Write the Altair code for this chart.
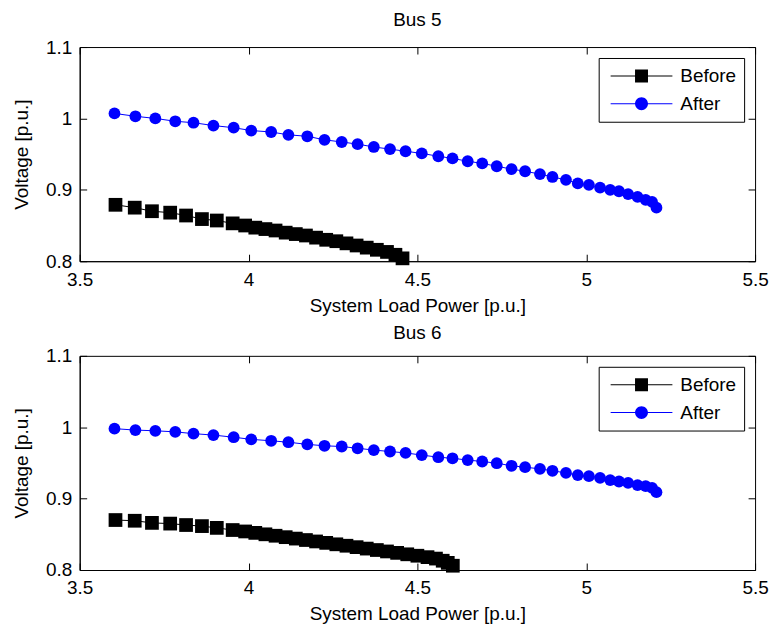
import altair as alt
import pandas as pd

series_names = ["Before", "After"]
series_colors = ["#000000", "#0000FF"]

# Bus 5
x_before_bus5 = [3.606, 3.663, 3.714, 3.768, 3.815, 3.862, 3.906, 3.953, 3.99,
                 4.02, 4.05, 4.08, 4.11, 4.14, 4.17, 4.20, 4.23, 4.26, 4.29, 4.32,
                 4.35, 4.38, 4.41, 4.435, 4.456]
v_before_bus5 = [0.879, 0.875, 0.870, 0.868, 0.864, 0.859, 0.857, 0.853, 0.850,
                 0.847, 0.845, 0.843, 0.840, 0.838, 0.836, 0.833, 0.830, 0.828, 0.825, 0.822,
                 0.819, 0.816, 0.813, 0.809, 0.804]

x_after = [3.603, 3.665, 3.724, 3.783, 3.837, 3.896, 3.956, 4.008, 4.067, 4.118,
           4.174, 4.225, 4.276, 4.323, 4.371, 4.419, 4.465, 4.513, 4.562, 4.604,
           4.649, 4.692, 4.735, 4.779, 4.819, 4.863, 4.900, 4.940, 4.975, 5.008,
           5.041, 5.071, 5.097, 5.124, 5.152, 5.176, 5.195, 5.208]
v_after_bus5 = [1.007, 1.003, 1.000, 0.996, 0.994, 0.990, 0.987, 0.983, 0.981, 0.977,
                0.975, 0.970, 0.967, 0.964, 0.960, 0.957, 0.954, 0.951, 0.947, 0.944,
                0.940, 0.937, 0.933, 0.929, 0.926, 0.922, 0.918, 0.914, 0.909, 0.907,
                0.903, 0.900, 0.898, 0.894, 0.890, 0.886, 0.883, 0.875]

# Bus 6
x_before_bus6 = [3.606, 3.663, 3.714, 3.768, 3.815, 3.862, 3.906, 3.953, 3.99,
                 4.02, 4.05, 4.08, 4.11, 4.14, 4.17, 4.20, 4.23, 4.26, 4.29, 4.32,
                 4.35, 4.38, 4.41, 4.44, 4.47, 4.50, 4.53, 4.555, 4.575, 4.59, 4.605]
v_before_bus6 = [0.870, 0.869, 0.866, 0.865, 0.863, 0.8615, 0.859, 0.856, 0.854,
                 0.852, 0.850, 0.848, 0.846, 0.844, 0.842, 0.840, 0.838, 0.836, 0.834, 0.832,
                 0.830, 0.828, 0.826, 0.824, 0.822, 0.820, 0.818, 0.816, 0.813, 0.810, 0.806]
v_after_bus6 = [0.998, 0.996, 0.995, 0.9935, 0.991, 0.989, 0.986, 0.983, 0.981, 0.979,
                0.976, 0.974, 0.973, 0.9705, 0.968, 0.966, 0.964, 0.961, 0.958, 0.9565,
                0.954, 0.952, 0.9496, 0.946, 0.944, 0.9417, 0.939, 0.936, 0.933, 0.9315,
                0.929, 0.926, 0.924, 0.922, 0.919, 0.9176, 0.915, 0.909]

x_ticks = [3.5, 4, 4.5, 5, 5.5]
y_ticks = [0.8, 0.9, 1.0, 1.1]

FONT = "Liberation Sans"
FS = 19
TICK = 7

BEFORE_PATH = "M-3.1,-0.05H-0.6V0.05H-3.1Z M0.6,-0.05H3.1V0.05H0.6Z M-0.65,-0.65H0.65V0.65H-0.65Z"
AFTER_PATH = ("M-3.1,-0.05H-0.6V0.05H-3.1Z M0.6,-0.05H3.1V0.05H0.6Z "
              "M0.65,0A0.65,0.65 0 1,1 -0.65,0A0.65,0.65 0 1,1 0.65,0Z")


def ax(**kw):
    base = dict(grid=False, domainColor="black", domainWidth=1, tickColor="black",
                tickWidth=1, labelFont=FONT, labelFontSize=FS, labelColor="black",
                titleFont=FONT, titleFontSize=FS, titleFontWeight="normal",
                titleColor="black", format="~g", labelFlush=False)
    base.update(kw)
    return alt.Axis(**base)


def tick_axis(orient, values):
    # inward ticks: axis pushed inside by the tick length, no domain or labels
    return ax(orient=orient, values=values, labels=False, domain=False, title=None,
              tickSize=TICK, offset=-TICK, minExtent=0, maxExtent=0)


def panel(title, title_offset, xb, vb, va):
    df = pd.DataFrame({
        "load": list(xb) + list(x_after),
        "voltage": list(vb) + list(va),
        "series": ["Before"] * len(xb) + ["After"] * len(x_after),
    })
    xscale = alt.Scale(domain=[3.5, 5.5], nice=False, zero=False)
    yscale = alt.Scale(domain=[0.8, 1.1], nice=False, zero=False)
    cscale = alt.Scale(domain=series_names, range=series_colors)
    base = alt.Chart(df)
    before = base.transform_filter(alt.datum.series == "Before")
    after = base.transform_filter(alt.datum.series == "After")

    line_before = before.mark_line(strokeWidth=1, color=series_colors[0]).encode(
        x=alt.X("load:Q", scale=xscale, title="System Load Power [p.u.]",
                axis=ax(orient="bottom", values=x_ticks, ticks=False,
                        labelPadding=9, titlePadding=7)),
        y=alt.Y("voltage:Q", scale=yscale, title="Voltage [p.u.]",
                axis=ax(orient="left", values=y_ticks, ticks=False,
                        labelPadding=8, titlePadding=14)),
        order="load:Q",
    )
    line_after = after.mark_line(strokeWidth=1, color=series_colors[1]).encode(
        x=alt.X("load:Q", scale=xscale, axis=None),
        y=alt.Y("voltage:Q", scale=yscale, axis=None),
        order="load:Q",
    )
    pts_before = before.mark_point(
        shape="square", filled=True, opacity=1, strokeWidth=0, size=190,
        color=series_colors[0]).encode(
        x=alt.X("load:Q", scale=xscale, axis=tick_axis("bottom", x_ticks)),
        y=alt.Y("voltage:Q", scale=yscale, axis=tick_axis("left", y_ticks)),
    )
    pts_after = after.mark_point(
        shape="circle", filled=True, opacity=1, strokeWidth=0, size=140,
        color=series_colors[1]).encode(
        x=alt.X("load:Q", scale=xscale, axis=tick_axis("top", x_ticks)),
        y=alt.Y("voltage:Q", scale=yscale, axis=tick_axis("right", y_ticks)),
    )
    legend = alt.Legend(
        title=None, orient="top-right", offset=11, padding=8,
        strokeColor="black", fillColor="white",
        labelFont=FONT, labelFontSize=FS, labelColor="black",
        symbolSize=400, symbolOffset=25, labelOffset=29, rowPadding=8,
        symbolStrokeWidth=0, symbolOpacity=1,
    )
    legend_layer = base.mark_point(filled=True, size=0).encode(
        x=alt.X("load:Q", scale=xscale, axis=None),
        y=alt.Y("voltage:Q", scale=yscale, axis=None),
        color=alt.Color("series:N", scale=cscale, legend=legend),
        shape=alt.Shape("series:N",
                        scale=alt.Scale(domain=series_names, range=[BEFORE_PATH, AFTER_PATH]),
                        legend=legend),
    )
    return alt.layer(line_before, line_after, pts_before, pts_after, legend_layer).resolve_axis(
        x="independent", y="independent").properties(
        width=678, height=215,
        title=alt.TitleParams(title, font=FONT, fontSize=FS, fontWeight="normal",
                              color="black", offset=title_offset, anchor="middle"),
    )


chart = alt.vconcat(
    panel("Bus 5", 8, x_before_bus5, v_before_bus5, v_after_bus5),
    panel("Bus 6", 4, x_before_bus6, v_before_bus6, v_after_bus6),
    spacing=7,
).resolve_scale(color="independent", shape="independent").configure(
    padding={"left": 12, "top": 9, "right": 5, "bottom": 2},
).configure_view(
    stroke="black", strokeWidth=1,
).configure_legend(
    strokeWidth=1,
).properties(background="white")

chart.save("out.html", embed_options={"renderer": "svg", "actions": False})
